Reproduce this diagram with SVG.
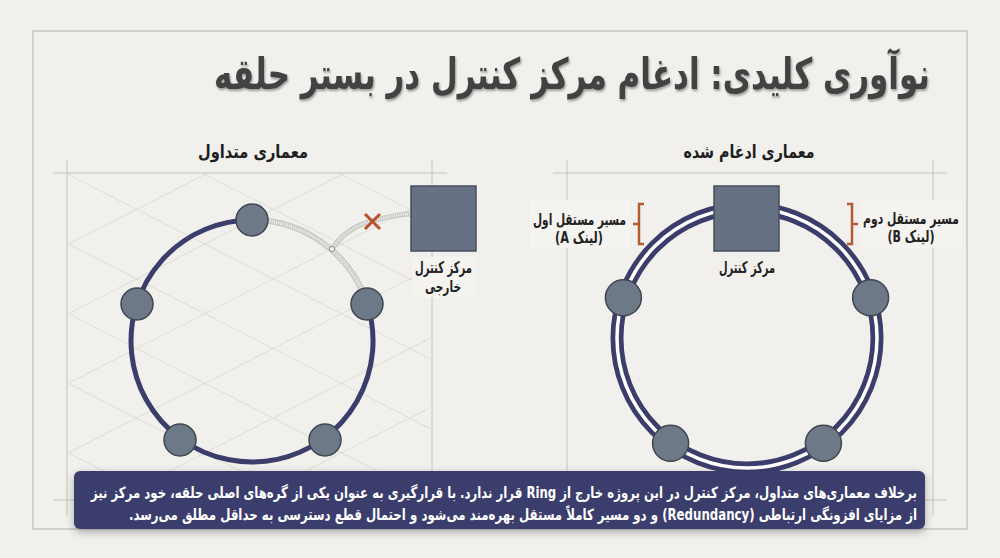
<svg xmlns="http://www.w3.org/2000/svg" width="1000" height="558" viewBox="0 0 1000 558">
<defs>
<style>
.fa{font-family:"DejaVu Sans",sans-serif;direction:rtl;text-anchor:middle}
.title{font-size:43px;font-weight:bold;fill:#424242}
.sub{font-size:18px;font-weight:bold;fill:#1e1e1e}
.lbl{font-size:16px;font-weight:bold;fill:#222}
.body{font-size:15.5px;font-weight:bold;fill:#ffffff}
.fr{fill:none;stroke:#bdbdb7;stroke-width:1.2}
.pl{fill:none;stroke:#c4c4be;stroke-width:1}
.ring{fill:none;stroke:#3b3e6b;stroke-width:5}
.node{fill:#6d7987;stroke:#3f4651;stroke-width:1.5}
.sq{fill:#667283;stroke:#464f5b;stroke-width:1.5}
.ghost{fill:none;stroke:#c8c8c3;stroke-width:6}
.ghost2{fill:none;stroke:#f3f3ef;stroke-width:3.5;stroke-dasharray:1 1.2}
.org{fill:none;stroke:#b45a30;stroke-width:2.5}
.bg{fill:#f4f3ef}
</style>
<filter id="tsh" filterUnits="userSpaceOnUse" x="190" y="40" width="770" height="80">
<feDropShadow dx="1" dy="2" stdDeviation="1" flood-color="#000" flood-opacity="0.35"/>
</filter>
<filter id="bsh" filterUnits="userSpaceOnUse" x="60" y="460" width="880" height="90">
<feDropShadow dx="0" dy="3" stdDeviation="4" flood-color="#000" flood-opacity="0.3"/>
</filter>
<pattern id="gA" width="90" height="62" patternUnits="userSpaceOnUse" patternTransform="rotate(27)">
<line x1="0" y1="0.5" x2="90" y2="0.5" stroke="#dcdcd6" stroke-width="0.9"/>
</pattern>
<pattern id="gB" width="90" height="62" patternUnits="userSpaceOnUse" patternTransform="rotate(-27)">
<line x1="0" y1="0.5" x2="90" y2="0.5" stroke="#dcdcd6" stroke-width="0.9"/>
</pattern>
</defs>

<rect x="0" y="0" width="1000" height="558" fill="#f1f0ec"/>
<rect x="33" y="31" width="934" height="498" fill="#f4f3ef" class="fr"/>

<g id="panel-lines">
<line class="pl" x1="53" y1="173" x2="447" y2="173"/>
<line class="pl" x1="67" y1="160" x2="67" y2="515"/>
<line class="pl" x1="432" y1="160" x2="432" y2="515"/>
<line class="pl" x1="53" y1="500" x2="447" y2="500"/>
<line class="pl" x1="553" y1="173" x2="947" y2="173"/>
<line class="pl" x1="567" y1="160" x2="567" y2="515"/>
<line class="pl" x1="933" y1="160" x2="933" y2="515"/>
<line class="pl" x1="553" y1="500" x2="947" y2="500"/>
</g>

<g id="left-grid">
<rect x="68" y="174" width="363" height="298" fill="url(#gA)"/>
<rect x="68" y="174" width="363" height="298" fill="url(#gB)"/>
</g>

<text class="fa title" x="572" y="89" textLength="716" lengthAdjust="spacingAndGlyphs" filter="url(#tsh)">نوآوری کلیدی: ادغام مرکز کنترل در بستر حلقه</text>
<text class="fa sub" x="253" y="158" textLength="110" lengthAdjust="spacingAndGlyphs">معماری متداول</text>
<text class="fa sub" x="749" y="158" textLength="131" lengthAdjust="spacingAndGlyphs">معماری ادغام شده</text>

<g id="connectors">
<path class="ring" d="M367.1,303.6 A121,121 0 1 1 252,220"/>
<path class="ghost" d="M252,220 A121,121 0 0 1 367.1,303.6"/>
<path class="ghost2" d="M252,220 A121,121 0 0 1 367.1,303.6"/>
<path class="ghost" style="stroke-width:5" d="M332,249 C342,234 356,225 372,221 S398,214 411,214"/>
<path class="ghost2" style="stroke-width:2.8" d="M332,249 C342,234 356,225 372,221 S398,214 411,214"/>
<circle cx="332" cy="249" r="2.6" fill="#f4f3ef" stroke="#8f8f8a" stroke-width="1"/>
<circle cx="747" cy="338" r="130" fill="none" stroke="#3b3e6b" stroke-width="13"/>
<circle cx="747" cy="338" r="130" fill="none" stroke="#ffffff" stroke-width="3.5"/>
</g>

<g id="fail-mark">
<path d="M365,214 L380,229 M380,214 L365,229" stroke="#b4532e" stroke-width="3" fill="none"/>
</g>

<g id="left-n1"><circle class="node" cx="252" cy="220" r="16"/></g>
<g id="left-n2"><circle class="node" cx="137" cy="304" r="16"/></g>
<g id="left-n3"><circle class="node" cx="367" cy="304" r="16"/></g>
<g id="left-n4"><circle class="node" cx="180" cy="440" r="16"/></g>
<g id="left-n5"><circle class="node" cx="325" cy="440" r="16"/></g>

<g id="external-control">
<rect class="sq" x="411" y="186" width="65" height="65"/>
<rect class="bg" x="412" y="257" width="63" height="40"/>
<text class="fa lbl" x="443.5" y="273" textLength="57" lengthAdjust="spacingAndGlyphs">مرکز کنترل</text>
<text class="fa lbl" x="443" y="292" textLength="36" lengthAdjust="spacingAndGlyphs">خارجی</text>
</g>

<g id="right-n1"><circle class="node" cx="623.4" cy="297.8" r="18"/></g>
<g id="right-n2"><circle class="node" cx="870.6" cy="297.8" r="18"/></g>
<g id="right-n3"><circle class="node" cx="670.6" cy="443.2" r="18"/></g>
<g id="right-n4"><circle class="node" cx="823.4" cy="443.2" r="18"/></g>

<g id="integrated-control">
<rect class="sq" x="714" y="186" width="65" height="65"/>
<text class="fa lbl" x="747" y="273" textLength="56" lengthAdjust="spacingAndGlyphs">مرکز کنترل</text>
</g>

<g id="link-a">
<rect class="bg" x="530" y="200" width="100" height="48"/>
<path class="org" d="M644,204 H639 V244 H644 M639,224 H633"/>
<text class="fa lbl" x="579.5" y="225" textLength="93" lengthAdjust="spacingAndGlyphs">مسیر مستقل اول</text>
<text class="fa lbl" x="579" y="243" textLength="48" lengthAdjust="spacingAndGlyphs">(لینک A)</text>
</g>

<g id="link-b">
<rect class="bg" x="860" y="200" width="102" height="48"/>
<path class="org" d="M847,204 H852 V244 H847 M852,224 H858"/>
<text class="fa lbl" x="911" y="224" textLength="96" lengthAdjust="spacingAndGlyphs">مسیر مستقل دوم</text>
<text class="fa lbl" x="911" y="242" textLength="47" lengthAdjust="spacingAndGlyphs">(لینک B)</text>
</g>

<g id="note">
<rect x="74" y="471" width="851" height="58" rx="6" fill="#3a3e6c" filter="url(#bsh)"/>
<text class="fa body" x="504" y="498" textLength="826" lengthAdjust="spacingAndGlyphs">برخلاف معماری‌های متداول، مرکز کنترل در این پروژه خارج از Ring قرار ندارد. با قرارگیری به عنوان یکی از گره‌های اصلی حلقه، خود مرکز نیز</text>
<text class="fa body" x="523" y="520" textLength="788" lengthAdjust="spacingAndGlyphs">از مزایای افزونگی ارتباطی (Redundancy) و دو مسیر کاملاً مستقل بهره‌مند می‌شود و احتمال قطع دسترسی به حداقل مطلق می‌رسد.</text>
</g>
</svg>
